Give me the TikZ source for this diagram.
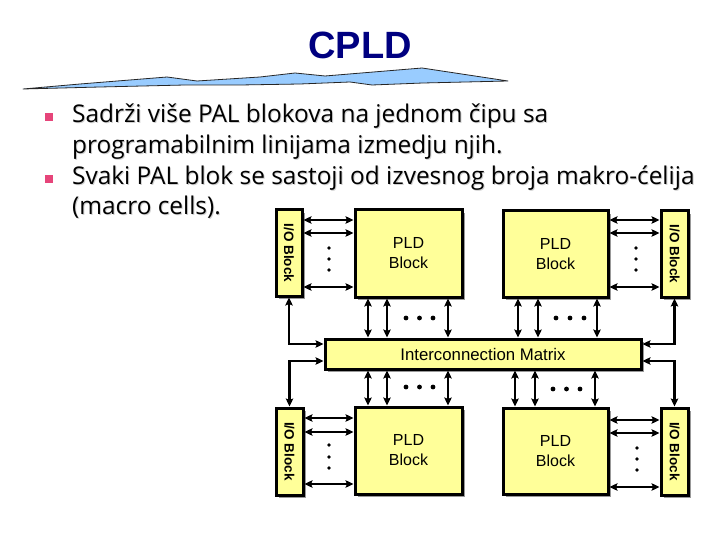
\documentclass[tikz,border=0pt]{standalone}
\usepackage{fontspec}
\setmainfont{Open Sans}
\newfontfamily\arialfont{Liberation Sans}
\usetikzlibrary{arrows.meta,shadows}
\definecolor{blkfill}{HTML}{FFFF99}
\definecolor{titleblue}{HTML}{000080}
\definecolor{swooshblue}{HTML}{99CCFF}
\definecolor{bulletpink}{HTML}{E6457A}
\tikzset{
  blockbox/.style={draw=black, line width=3pt, fill=blkfill, inner sep=0pt,
    drop shadow={shadow xshift=3pt, shadow yshift=-3pt, fill=black!40, opacity=1}},
  pldtext/.style={font=\arialfont\fontsize{16}{20}\selectfont, align=center, inner sep=0pt},
  iotext/.style={font=\arialfont\bfseries\fontsize{13.5}{13.5}\selectfont, rotate=-90, inner sep=0pt},
  dbl/.style={line width=2.2pt, {Stealth[length=8pt,width=7.5pt,inset=1.5pt]}-{Stealth[length=8pt,width=7.5pt,inset=1.5pt]}},
  bodytext/.style={font=\fontsize{24.4}{31}\selectfont, anchor=base west, inner sep=0pt},
  bodyshadow/.style={bodytext, text=black!18},
  dotmark/.style={fill=black},
}
\begin{document}
\begin{tikzpicture}[x=1pt,y=-1pt]
\useasboundingbox (0,0) rectangle (720,540);
\fill[white] (0,0) rectangle (720,540);

% title and swoosh
\node[font=\arialfont\bfseries\fontsize{38}{38}\selectfont, text=titleblue, inner sep=0pt] (title) at (360,45) {CPLD};
\draw[fill=swooshblue, draw=black!85, line width=0.8pt, line join=round]
  (23,89) -- (80,84) -- (167,77) -- (197,81) -- (260,77) -- (295,73) -- (325,76) -- (422,68) -- (508,81)
  -- (423,83) -- (372,85) -- (350,82) -- (300,84) -- (240,85) -- (185,85) -- (100,87) -- cycle;

% bullets and text
\fill[bulletpink] (44.5,113.3) rectangle (52.5,121.5);
\fill[bulletpink] (44.5,175) rectangle (52.5,183.2);
\node[bodyshadow] (l1s) at (73,124) {Sadrži više PAL blokova na jednom čipu sa};
\node[bodyshadow] (l2s) at (73,154.5) {programabilnim linijama izmedju njih.};
\node[bodyshadow] (l3s) at (73,185.5) {Svaki PAL blok se sastoji od izvesnog broja makro-ćelija};
\node[bodyshadow] (l4s) at (73,215.5) {(macro cells).};
\node[bodytext] (l1) at (72,123) {Sadrži više PAL blokova na jednom čipu sa};
\node[bodytext] (l2) at (72,153.5) {programabilnim linijama izmedju njih.};
\node[bodytext] (l3) at (72,184.5) {Svaki PAL blok se sastoji od izvesnog broja makro-ćelija};
\node[bodytext] (l4) at (72,214.5) {(macro cells).};

% blocks
\node[blockbox, minimum width=26pt, minimum height=86pt] (IO1) at (289,253) {};
\node[blockbox, minimum width=107pt, minimum height=87pt] (PLD1) at (408.5,253.5) {};
\node[blockbox, minimum width=105pt, minimum height=86pt] (PLD2) at (555.5,254) {};
\node[blockbox, minimum width=27pt, minimum height=86pt] (IO2) at (674.5,254) {};
\node[blockbox, minimum width=316pt, minimum height=30pt] (MX) at (483,354) {};
\node[blockbox, minimum width=27pt, minimum height=87pt] (IO3) at (289.5,451.5) {};
\node[blockbox, minimum width=107pt, minimum height=87pt] (PLD3) at (408.5,450.5) {};
\node[blockbox, minimum width=105pt, minimum height=86pt] (PLD4) at (555.5,451) {};
\node[blockbox, minimum width=27pt, minimum height=87pt] (IO4) at (674.5,451.5) {};

\node[iotext] (IO1t) at (IO1.center) {I/O Block};
\node[iotext] (IO2t) at (IO2.center) {I/O Block};
\node[iotext] (IO3t) at (IO3.center) {I/O Block};
\node[iotext] (IO4t) at (IO4.center) {I/O Block};
\node[pldtext] (PLD1t) at (PLD1.center) {PLD\\Block};
\node[pldtext] (PLD2t) at (PLD2.center) {PLD\\Block};
\node[pldtext] (PLD3t) at (PLD3.center) {PLD\\Block};
\node[pldtext] (PLD4t) at (PLD4.center) {PLD\\Block};
\node[font=\arialfont\fontsize{16.8}{16.8}\selectfont, inner sep=0pt] (MXt) at (MX.center) {Interconnection Matrix};

% horizontal arrows top row
\foreach \yy in {220,233,287} {
  \draw[dbl] (IO1.east |- 0,\yy) -- (PLD1.west |- 0,\yy);
  \draw[dbl] (PLD2.east |- 0,\yy) -- (IO2.west |- 0,\yy);
}
% horizontal arrows bottom row
\foreach \yy in {418,432,484} {
  \draw[dbl] (IO3.east |- 0,\yy) -- (PLD3.west |- 0,\yy);
}
\foreach \yy in {420,433,487} {
  \draw[dbl] (PLD4.east |- 0,\yy) -- (IO4.west |- 0,\yy);
}
% vertical arrows
\foreach \xx in {368,387,448} {
  \draw[dbl] (PLD1.south -| \xx,0) -- (MX.north -| \xx,0);
  \draw[dbl] (MX.south -| \xx,0) -- (PLD3.north -| \xx,0);
}
\foreach \xx in {518,538,597} {
  \draw[dbl] (PLD2.south -| \xx,0) -- (MX.north -| \xx,0);
}
\foreach \xx in {515,535,595} {
  \draw[dbl] (MX.south -| \xx,0) -- (PLD4.north -| \xx,0);
}
% side connectors
\draw[dbl] (IO1.south) |- (MX.west |- 0,344);
\draw[dbl] (MX.west |- 0,361) -| (IO3.north);
\draw[dbl] (IO2.south) |- (MX.east |- 0,344);
\draw[dbl] (MX.east |- 0,361) -| (IO4.north);

% dots
\foreach \yy in {248,259,270} {
  \fill[dotmark] (329,\yy) circle (1.8);
  \fill[dotmark] (636,\yy) circle (1.8);
}
\foreach \yy in {445,457,468} { \fill[dotmark] (329,\yy) circle (1.8); }
\foreach \yy in {448,459,470} { \fill[dotmark] (637,\yy) circle (1.8); }
\foreach \xx in {406,419.5,433} { \fill[dotmark] (\xx,318) circle (2.4); \fill[dotmark] (\xx,387) circle (2.4); }
\foreach \xx in {556,570,584} { \fill[dotmark] (\xx,318) circle (2.4); }
\foreach \xx in {553,566.5,580} { \fill[dotmark] (\xx,389) circle (2.4); }
\end{tikzpicture}
\end{document}
